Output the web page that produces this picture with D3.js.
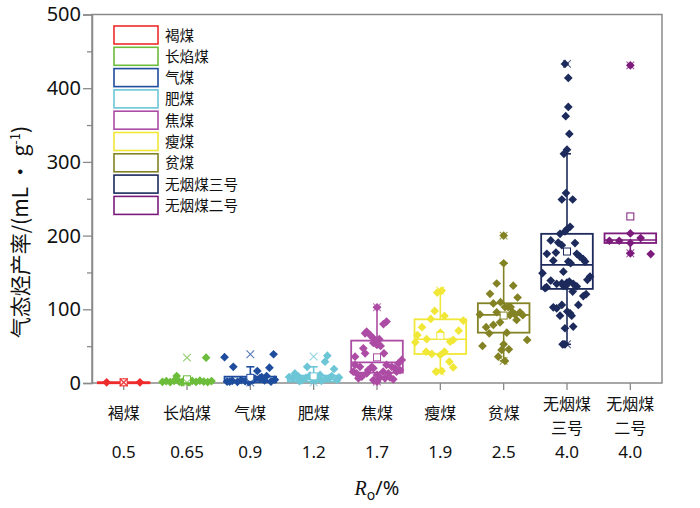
<!DOCTYPE html>
<html>
<head>
<meta charset="utf-8">
<style>
    body { margin: 0; background: white; }
    svg text { font-family: "Noto Sans", "Noto Sans CJK SC", sans-serif; fill: #111; }
    .cjk { font-family: "Noto Sans CJK SC", "Noto Sans", sans-serif; }
</style>
</head>
<body>
<svg width="700" height="508"></svg>

<script src="https://d3js.org/d3.v7.min.js"></script>
<script>
    // coal ranks and vitrinite reflectance
    let categories = ["褐煤", "长焰煤", "气煤", "肥煤", "焦煤", "瘦煤", "贫煤", "无烟煤三号", "无烟煤二号"]
    let axisLabels = [["褐煤"], ["长焰煤"], ["气煤"], ["肥煤"], ["焦煤"], ["瘦煤"], ["贫煤"], ["无烟煤", "三号"], ["无烟煤", "二号"]]
    let roLabels = ["0.5", "0.65", "0.9", "1.2", "1.7", "1.9", "2.5", "4.0", "4.0"]
    let yTicks = [0, 100, 200, 300, 400, 500]
    let yMinorTicks = [50, 150, 250, 350, 450]

    // box statistics (mL/g)
    let q1 = [0.3, 1, 1, 2, 14, 39.4, 68.3, 127.7, 190]
    let medians = [0.6, 1.8, 3, 5, 28, 59.4, 92.4, 160.3, 194]
    let q3 = [1, 3, 8.6, 10, 57.5, 86.4, 108.2, 202.4, 203]
    let whiskerLow = [0.2, 0.5, 0, 0.5, 1.8, 15.4, 30, 52.5, 176]
    let whiskerHigh = [1.2, 3.5, 22, 22, 102.7, 124, 162.5, 311, 203]
    let means = [0.9, 5, 7, 9, 34.8, 64, 91.5, 178.4, 226]
    let mins = [0.5, 0.5, 0.5, 1, 1.8, 15.4, 30, 52.5, 176]
    let maxs = [1.2, 34.4, 39, 36, 102.7, 125.4, 200, 433, 431]

    // samples: [value, horizontal spread within box (-1..1)]
    let lignitePts = [[0.9, -0.66], [0.9, 0], [0.9, 0.63]]
    let longFlamePts = [[34.4, 0.74], [9.5, -0.4], [1.5, -0.95], [2.5, -0.8], [1.2, -0.65], [3, -0.5], [1.8, -0.3],
        [2.2, -0.15], [1, 0.05], [2.8, 0.2], [1.5, 0.35], [3.2, 0.5], [2, 0.65], [1.3, 0.8], [2.6, 0.95], [0.8, -0.2], [1.9, 0.1]]
    let gasPts = [[35, -1], [22, -0.66], [39, 0.9], [20.8, 0.74], [16.3, 0.27], [9.5, 0.63], [7, 0.05], [6, 0.18],
        [6.5, 0.37], [8, 0.44], [2, -0.9], [3, -0.7], [1.5, -0.5], [4, -0.35], [2.5, -0.2], [1, -0.05], [3.5, 0.55],
        [2, 0.8], [4.5, 0.95], [1.8, -0.8]]
    let fatPts = [[37, 0.53], [29, 0.44], [22, -0.25], [19, 0.79], [13, -0.73], [8, -0.95], [6, -0.8], [9, -0.6],
        [4, -0.45], [7, -0.3], [10, -0.15], [5, 0], [8.5, 0.15], [3, 0.3], [6.5, 0.6], [9.5, 0.7], [4.5, 0.9],
        [7.5, 0.98], [2.5, -0.55], [5.5, 0.45], [11, 0.25]]
    let cokingPts = [[102.7, 0], [83.3, 0.37], [80, 0.25], [69.7, -0.4], [67.4, -0.46], [65.2, -0.27], [60.7, -0.14],
        [57.5, -0.04], [59.4, 0.09], [54.3, -0.14], [51.6, 0], [47, -0.53], [50.3, 0.14], [40.2, -0.46], [40.2, 0.27],
        [35.7, -0.85], [31.3, 0.96], [26.7, 0.83], [24.5, -0.85], [22, -0.66], [24.5, 0.37], [22, 0.57], [22, -0.2],
        [20, -0.14], [20, 0.69], [15.4, 0.76], [15.4, -0.92], [13, -0.79], [17.6, -0.34], [13, -0.4], [15.4, 0.24],
        [13, 0.44], [10.9, 0], [7.7, 0.12], [6.3, 0.31], [8.6, -0.59], [6.3, -0.72], [4, -0.14], [1.8, 0],
        [7.7, 0.5], [5, 0.63], [17.6, 0.89]]
    let leanPts = [[122.7, -0.12], [125.4, 0.05], [97.8, -0.22], [91, 0.16], [87, -0.37], [84.6, 0.89], [75.7, -0.71],
        [71, 0.71], [68.3, 0], [55.3, -0.97], [59.4, -0.53], [56, 0.38], [58.4, 0.5], [42.5, -0.55], [39.4, -0.33],
        [42.5, 0.16], [38, 0], [29, 0.35], [21.2, 0.5], [15.4, -0.17], [16.3, 0.05], [65, -0.89]]
    let meagerPts = [[200, 0], [162.5, 0], [135, -0.27], [132, 0.37], [121, -0.53], [116, 0.54], [108, -0.4],
        [109.6, -0.12], [103, 0.05], [103, 0.18], [103, 0.27], [93, -0.92], [96, -0.27], [96, 0.35], [93, 0.44],
        [96, 0.63], [92, 0.74], [92, 0.24], [85.6, 0.5], [75.7, -0.68], [78.8, -0.4], [82.4, -0.14], [67.4, -0.56],
        [68.3, 0.12], [58.4, 0.91], [50.3, -0.82], [52.6, 0], [44.8, -0.08], [45.7, 0.2], [35.7, -0.21], [29.9, 0.05]]
    let anthracite3Pts = [[433, -0.08], [414, 0.05], [374.6, 0.05], [362, -0.05], [338, 0.09], [316.6, 0], [311, -0.12],
        [257.7, -0.04], [249, -0.2], [249, 0.22], [212, 0.12], [209, 0.01], [205.6, -0.08], [202.4, -0.27],
        [193.4, -0.63], [190.6, -0.34], [187, -0.2], [189.8, 0.31], [175.3, -0.78], [177, -0.43], [175.3, 0.38],
        [171.6, 0.5], [168, 0.63], [164.8, 0.7], [166, -0.53], [164.8, 0.05], [162.6, 0.14], [149, -0.95],
        [151, -0.14], [144.4, 0.89], [140, 0.79], [139, -0.63], [134.5, -0.4], [135.4, -0.2], [136.3, 0],
        [137.6, 0.09], [134.5, 0.24], [130, -0.79], [131, 0.38], [128.7, -0.85], [131.8, -0.14], [131.8, -0.04],
        [124, 0.22], [118, 0.63], [120.5, 0.74], [102.7, -0.53], [101.4, -0.4], [106, -0.2], [106, 0.44],
        [97, 0.01], [94.6, 0.12], [91.4, 0.18], [91.4, -0.27], [74.3, -0.08], [76.5, 0.24], [52.5, -0.17], [52.5, -0.08]]
    let anthracite2Pts = [[431, 0], [203, 0], [196.6, 0.4], [193, -0.81], [193, -0.43], [190, 0], [175, 0.79], [176, 0]]

    let samples = [lignitePts, longFlamePts, gasPts, fatPts, cokingPts, leanPts, meagerPts, anthracite3Pts, anthracite2Pts]

    let colors = ["#ee2b2b", "#6bbd3a", "#1f4d9e", "#6cc6d6", "#ad4ca4", "#f1e736", "#838325", "#1c2a5c", "#7d1b7d"]

    let plotLeft = 92, plotRight = 662, plotTop = 14.5, plotBottom = 383

    let svg = d3.select("svg")

    let x = d3.scaleBand()
        .domain(categories)
        .range([plotLeft, plotRight])
        .paddingInner(0.185)
        .paddingOuter(0.0925)

    let y = d3.scaleLinear()
        .domain([0, 500])
        .range([plotBottom, plotTop])

    let bw = x.bandwidth()
    let jitter = d3.scaleLinear().domain([-1, 1]).range([-bw / 2, bw / 2])
    let cx = i => x(categories[i]) + bw / 2

    // frame
    svg.append("rect")
        .attr("x", plotLeft).attr("y", plotTop)
        .attr("width", plotRight - plotLeft).attr("height", plotBottom - plotTop)
        .style("fill", "none").style("stroke", "#8a8a8a").style("stroke-width", 1.5)

    // y axis
    let yAxis = svg.append("g")
        .attr("transform", `translate(${plotLeft},0)`)
        .call(d3.axisLeft(y).tickValues(yTicks).tickSize(9).tickPadding(2))
    svg.append("g")
        .attr("transform", `translate(${plotLeft},0)`)
        .call(d3.axisLeft(y).tickValues(yMinorTicks).tickSize(5).tickFormat(""))
        .call(g => g.select(".domain").remove())
    yAxis.selectAll("text").style("font-size", "20px").style("font-family", "'Noto Sans', sans-serif")
    svg.selectAll(".tick line").style("stroke", "#8a8a8a").style("stroke-width", 1.3)
    yAxis.select(".domain").style("stroke", "#8a8a8a").style("stroke-width", 1.5)

    // x axis ticks
    let xAxis = svg.append("g")
        .attr("transform", `translate(0,${plotBottom})`)
        .call(d3.axisBottom(x).tickSize(7).tickFormat(""))
    xAxis.select(".domain").remove()
    xAxis.selectAll(".tick line").style("stroke", "#8a8a8a").style("stroke-width", 1.3)

    // category labels (one text per line)
    categories.forEach((c, i) => {
        let lines = axisLabels[i]
        lines.forEach((l, k) => {
            svg.append("text")
                .attr("class", "cjk")
                .attr("text-anchor", "middle")
                .attr("x", cx(i))
                .attr("y", (lines.length == 1 ? 419 : 410) + k * 23.5)
                .style("font-size", "16px")
                .text(l)
        })
        svg.append("text")
            .attr("text-anchor", "middle")
            .attr("x", cx(i))
            .attr("y", 458)
            .style("font-size", "17px")
            .text(roLabels[i])
    })

    // boxes
    let groups = svg.selectAll(".rank")
        .data(categories)
        .join("g")
        .attr("class", "rank")

    groups.each(function (c, i) {
        let g = d3.select(this)
        let col = colors[i]
        let left = x(c)
        let mid = cx(i)

        g.append("line")
            .attr("x1", mid).attr("x2", mid)
            .attr("y1", y(q3[i])).attr("y2", y(whiskerHigh[i]))
            .style("stroke", col).style("stroke-width", 1.6)
        g.append("line")
            .attr("x1", mid).attr("x2", mid)
            .attr("y1", y(q1[i])).attr("y2", y(whiskerLow[i]))
            .style("stroke", col).style("stroke-width", 1.6)
        ;[whiskerHigh[i], whiskerLow[i]].forEach(v => {
            g.append("line")
                .attr("x1", mid - 4).attr("x2", mid + 4)
                .attr("y1", y(v)).attr("y2", y(v))
                .style("stroke", col).style("stroke-width", 1.6)
        })
        g.append("rect")
            .attr("x", left).attr("width", bw)
            .attr("y", y(q3[i])).attr("height", Math.max(y(q1[i]) - y(q3[i]), 1))
            .style("fill", "none").style("stroke", col).style("stroke-width", 1.8)
        g.append("line")
            .attr("x1", left).attr("x2", left + bw)
            .attr("y1", y(medians[i])).attr("y2", y(medians[i]))
            .style("stroke", col).style("stroke-width", 1.6)

        // sample diamonds
        g.selectAll(".pt")
            .data(samples[i])
            .join("path")
            .attr("class", "pt")
            .attr("d", d3.symbol(d3.symbolSquare, 38))
            .attr("transform", d => `translate(${mid + jitter(d[1])},${y(d[0])}) rotate(45)`)
            .style("fill", col)

        // mean
        g.append("rect")
            .attr("x", mid - 3.5).attr("y", y(means[i]) - 3.5)
            .attr("width", 7).attr("height", 7)
            .style("fill", "white").style("stroke", col).style("stroke-width", 1)

        // min / max crosses
        ;[mins[i], maxs[i]].forEach(v => {
            g.append("path")
                .attr("d", d3.symbol(d3.symbolX, 40))
                .attr("transform", `translate(${mid},${y(v)})`)
                .style("fill", "none").style("stroke", col).style("stroke-width", 1.1)
                .style("stroke-opacity", 0.75)
        })
    })

    // legend
    let legend = svg.append("g")
    categories.forEach((c, i) => {
        let ly = 26 + i * 21.3
        legend.append("rect")
            .attr("x", 114).attr("y", ly)
            .attr("width", 44).attr("height", 18)
            .style("fill", "white").style("stroke", colors[i]).style("stroke-width", 1.6)
        legend.append("text")
            .attr("class", "cjk")
            .attr("x", 165).attr("y", ly + 14.5)
            .style("font-size", "14.6px")
            .text(c)
    })

    // y title
    let yt = svg.append("text")
        .attr("class", "cjk")
        .attr("text-anchor", "middle")
        .attr("transform", "translate(28,232) rotate(-90)")
        .style("font-size", "21px")
    yt.append("tspan").text("气态烃产率/(mL · g")
    yt.append("tspan").attr("dy", -8).style("font-size", "13px").text("-1")
    yt.append("tspan").attr("dy", 8).text(")")

    // x title
    let xt = svg.append("text")
        .attr("text-anchor", "middle")
        .attr("x", 377).attr("y", 495)
        .style("font-size", "20px")
    xt.append("tspan").style("font-style", "italic").style("font-family", "'Liberation Serif', serif").text("R")
    xt.append("tspan").attr("dy", 5).style("font-size", "14px").text("o")
    xt.append("tspan").attr("dy", -5).text("/%")
</script>
</body>
</html>
